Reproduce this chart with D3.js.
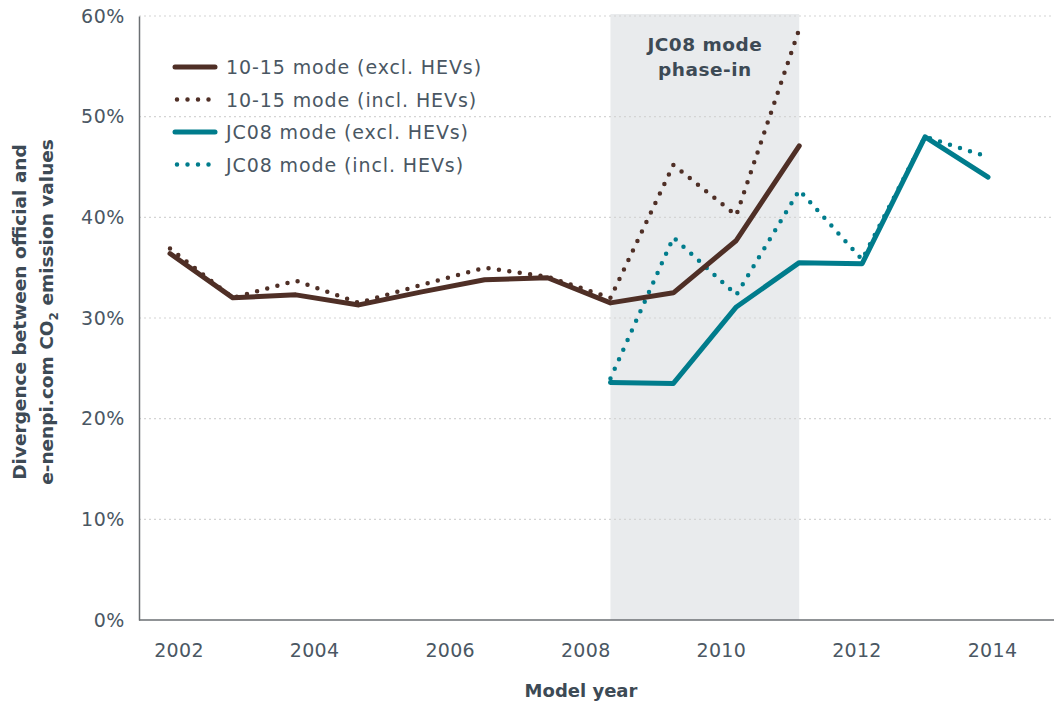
<!DOCTYPE html>
<html>
<head>
<meta charset="utf-8">
<script src="https://cdn.jsdelivr.net/npm/d3@7"></script>
<style>
  body { margin: 0; background: #fff; }
  svg text { font-family: "DejaVu Sans", sans-serif; }
</style>
</head>
<body>
<div id="chart"></div>
<script>
// data points, one per model year
var years = [2001, 2002, 2003, 2004, 2005, 2006, 2007, 2008, 2009, 2010, 2011, 2012, 2013, 2014];
var exclHev1015 = [36.4, 32.0, 32.3, 31.3, 32.6, 33.8, 34.0, 31.5, 32.5, 37.7, 47.1, null, null, null];
var inclHev1015 = [36.9, 32.0, 33.7, 31.5, 33.3, 35.0, 34.1, 32.0, 45.2, 40.2, 58.7, null, null, null];
var exclHevJc08 = [null, null, null, null, null, null, null, 23.6, 23.5, 31.1, 35.5, 35.4, 48.0, 44.0];
var inclHevJc08 = [null, null, null, null, null, null, null, 24.0, 38.0, 32.3, 42.7, 35.8, 48.0, 46.0];
var tickLabels = ["2002", "2004", "2006", "2008", "2010", "2012", "2014"];
var yTicks = [0, 10, 20, 30, 40, 50, 60];
var phaseIn = [2008, 2011];

(function () {
var width = 1054, height = 704;
var mLeft = 139, mRight = 1054, mTop = 16, mBottom = 620;
var brown = "#4f2f26", teal = "#007c8c", textCol = "#4a5763", titleCol = "#3d4a55";

var svg = d3.select("#chart").append("svg")
    .attr("width", width)
    .attr("height", height);

var x = d3.scalePoint().domain(years).range([170, 988]);
var xLabels = d3.scalePoint().domain(tickLabels).range([178.5, 992]);
var y = d3.scaleLinear().domain([0, 60]).range([mBottom, mTop]);

// shaded phase-in band
svg.append("rect")
    .attr("x", x(phaseIn[0]))
    .attr("y", mTop - 2)
    .attr("width", x(phaseIn[1]) - x(phaseIn[0]))
    .attr("height", mBottom - mTop + 2)
    .attr("fill", "#e9ebed");

var bandMid = (x(phaseIn[0]) + x(phaseIn[1])) / 2;
svg.append("text")
    .attr("text-anchor", "middle")
    .attr("font-weight", "bold")
    .attr("font-size", 18.5)
    .attr("letter-spacing", 0.5)
    .attr("fill", titleCol)
  .selectAll("tspan")
    .data(["JC08 mode", "phase-in"])
  .enter().append("tspan")
    .attr("x", bandMid)
    .attr("y", (d, i) => 51 + i * 25)
    .text(d => d);

// gridlines
svg.append("g")
  .selectAll("line")
    .data(yTicks.filter(d => d > 0))
  .enter().append("line")
    .attr("x1", mLeft)
    .attr("x2", mRight)
    .attr("y1", d => y(d))
    .attr("y2", d => y(d))
    .attr("stroke", "#d4d4d4")
    .attr("stroke-width", 1.2)
    .attr("stroke-dasharray", "2,3");

// y axis
var yAxis = svg.append("g")
    .attr("transform", "translate(" + mLeft + ",0)")
    .call(d3.axisLeft(y).tickValues(yTicks).tickSize(0).tickPadding(14).tickFormat(d => d + "%"));
yAxis.select(".domain").attr("stroke", "#6b6f73").attr("stroke-width", 1.5);
yAxis.selectAll("text")
    .attr("font-family", "DejaVu Sans")
    .attr("font-size", 19)
    .attr("letter-spacing", 0.6)
    .attr("fill", textCol);

// x axis
var xAxis = svg.append("g")
    .attr("transform", "translate(0," + mBottom + ")")
    .call(d3.axisBottom(xLabels).tickSize(0).tickPadding(24));
xAxis.select(".domain").remove();
xAxis.selectAll("text")
    .attr("font-family", "DejaVu Sans")
    .attr("font-size", 19)
    .attr("letter-spacing", 0.3)
    .attr("fill", textCol);
svg.append("line")
    .attr("x1", mLeft).attr("x2", mRight)
    .attr("y1", mBottom).attr("y2", mBottom)
    .attr("stroke", "#6b6f73")
    .attr("stroke-width", 1.5);

// axis titles
svg.append("text")
    .attr("x", 581)
    .attr("y", 697)
    .attr("text-anchor", "middle")
    .attr("font-weight", "bold")
    .attr("font-size", 18)
    .attr("fill", titleCol)
    .text("Model year");

var yTitle = svg.append("text")
    .attr("transform", "translate(0,312) rotate(-90)")
    .attr("text-anchor", "middle")
    .attr("font-weight", "bold")
    .attr("font-size", 18.5)
    .attr("fill", titleCol);
yTitle.append("tspan").attr("x", 0).attr("y", 26).text("Divergence between official and");
var line2 = yTitle.append("tspan").attr("x", 0).attr("y", 53);
line2.append("tspan").text("e-nenpi.com CO");
line2.append("tspan").attr("font-size", 12).attr("dy", 5).text("2");
line2.append("tspan").attr("dy", -5).text(" emission values");

// series
var series = [
  { name: "10-15 mode (excl. HEVs)", values: exclHev1015, color: brown, dotted: false },
  { name: "10-15 mode (incl. HEVs)", values: inclHev1015, color: brown, dotted: true },
  { name: "JC08 mode (excl. HEVs)", values: exclHevJc08, color: teal, dotted: false },
  { name: "JC08 mode (incl. HEVs)", values: inclHevJc08, color: teal, dotted: true }
];

var line = d3.line()
    .defined(d => d.v != null)
    .x(d => x(d.year))
    .y(d => y(d.v));

function styleLine(sel) {
  sel.attr("fill", "none")
     .attr("stroke", d => d.color)
     .attr("stroke-width", d => d.dotted ? 4.5 : 5)
     .attr("stroke-linecap", "round")
     .attr("stroke-linejoin", "round")
     .attr("stroke-dasharray", d => d.dotted ? "0,10.5" : null);
}

// draw dotted first so the solid lines sit on top
var order = [series[1], series[3], series[0], series[2]];
svg.append("g")
  .selectAll("path")
    .data(order)
  .enter().append("path")
    .attr("d", d => line(years.map((yr, i) => ({ year: yr, v: d.values[i] }))))
    .call(styleLine);

// legend
var legend = svg.append("g")
  .selectAll("g")
    .data(series)
  .enter().append("g")
    .attr("transform", (d, i) => "translate(175," + (67 + i * 32.5) + ")");
legend.append("path")
    .attr("d", d => d.dotted ? "M2,0H39" : "M0,0H40")
    .call(styleLine);
legend.append("text")
    .attr("x", 51)
    .attr("y", 7)
    .attr("font-size", 19)
    .attr("letter-spacing", 0.9)
    .attr("fill", textCol)
    .text(d => d.name);
})();
</script>
</body>
</html>
